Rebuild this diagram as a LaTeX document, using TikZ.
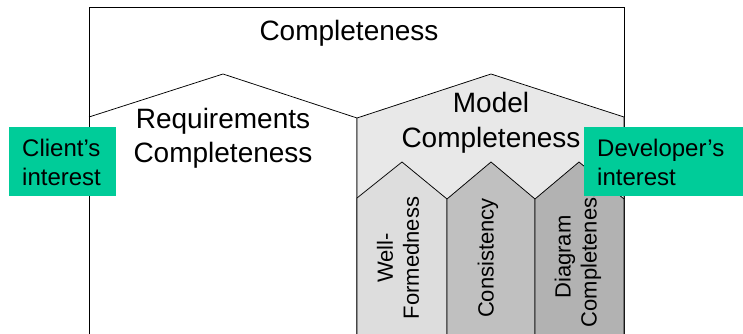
\documentclass[tikz,border=0pt]{standalone}
\usepackage{fontspec}
\setmainfont{Liberation Sans}
\definecolor{intgreen}{RGB}{0,204,153}
\definecolor{modelfill}{RGB}{232,232,232}
\definecolor{colA}{RGB}{221,221,221}
\definecolor{colB}{RGB}{192,192,192}
\definecolor{colC}{RGB}{178,178,178}
\begin{document}
\begin{tikzpicture}[x=1pt,y=-1pt,
  outline/.style={draw=black,line width=0.75pt,line join=miter},
  bigtext/.style={font=\fontsize{28}{34}\selectfont,align=center,inner sep=0pt},
  coltext/.style={font=\fontsize{22}{26}\selectfont,align=center,rotate=90,inner sep=0pt},
  greenbox/.style={fill=intgreen,draw=none},
  greentext/.style={font=\fontsize{24}{29}\selectfont,align=left,inner sep=0pt,anchor=west}]
\useasboundingbox (0,0) rectangle (743,334);
% outer frame
\draw[outline] (89,334) -- (89,7) -- (624,7) -- (624,334);
% requirements roof
\draw[outline] (89,117) -- (223,74) -- (357,118) -- (357,334);
% model pentagon
\draw[outline,fill=modelfill] (357,334) -- (357,118) -- (491,74) -- (624,117) -- (624,334);
% columns
\draw[outline,fill=colA] (357,334) -- (357,198) -- (402,162) -- (447,199) -- (447,334);
\draw[outline,fill=colB] (447,334) -- (447,199) -- (491,162) -- (535,199) -- (535,334);
\draw[outline,fill=colC] (535,334) -- (535,199) -- (579,162) -- (624,199) -- (624,334);
% texts
\node[bigtext] (comp) at (349,33) {Completeness};
\node[bigtext] (req) at (223,138) {Requirements\\Completeness};
\node[bigtext,font=\fontsize{28}{35}\selectfont] (model) at (491,123) {Model\\Completeness};
\node[coltext] (wf) at (398,258) {Well-\\Formedness};
\node[coltext] (cons) at (488,258) {Consistency};
\node[coltext] (diag) at (578,257) {Diagram\\Completeness};
% interest boxes
\fill[greenbox] (9,127) rectangle (116,196);
\node[greentext] (client) at (22,162) {Client’s\\interest};
\fill[greenbox] (584,127) rectangle (743,196);
\node[greentext] (dev) at (597,162) {Developer’s\\interest};
\end{tikzpicture}
\end{document}
